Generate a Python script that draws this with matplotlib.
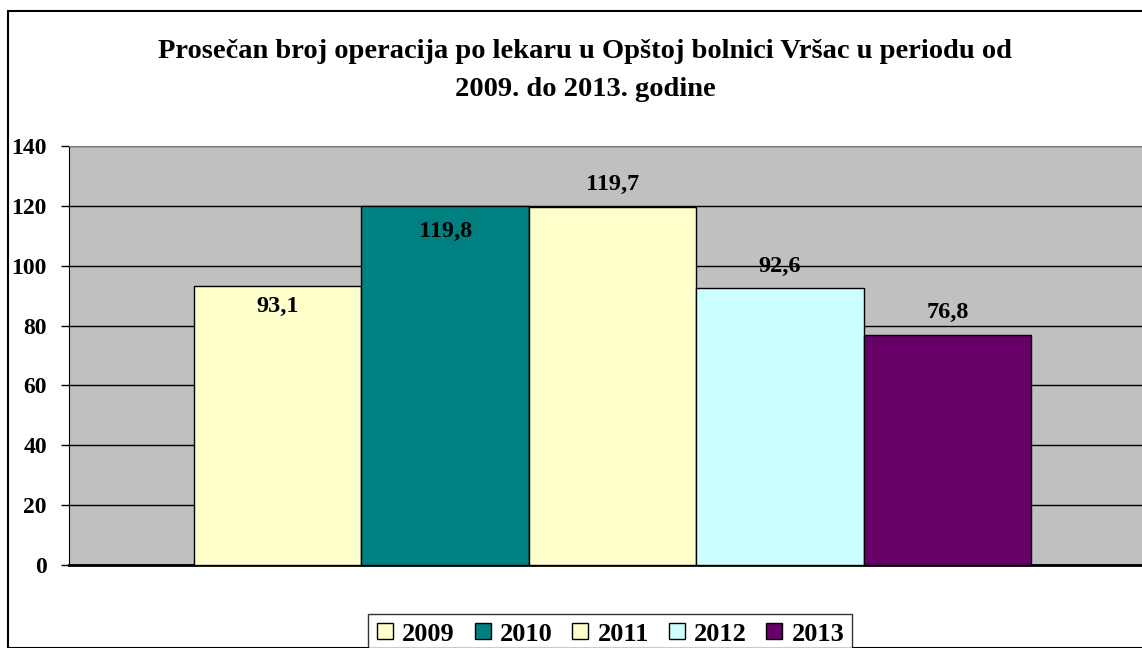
import matplotlib
matplotlib.use("Agg")
import matplotlib.pyplot as plt
from matplotlib.lines import Line2D
from matplotlib.patches import Rectangle

godine = ["2009", "2010", "2011", "2012", "2013"]
prosek = [93.1, 119.8, 119.7, 92.6, 76.8]
boje = ["#FFFFCC", "#008080", "#FFFFCC", "#CCFFFF", "#660066"]
# pomeraj oznaka u pikselima (kao u Excel-u, neke unutra, neke iznad)
pomeraj = [-20, -25, 22, 21, 23]

plt.rcParams["font.family"] = ["Liberation Serif", "DejaVu Serif"]
plt.rcParams["font.weight"] = "bold"

W, H = 1142, 648
fig = plt.figure(figsize=(W / 100, H / 100), dpi=100)

# okvir grafikona
fig.patches.append(Rectangle((8 / W, 0), 1.2, 1 - 11 / H, transform=fig.transFigure,
                             fill=False, edgecolor="black", lw=1.5))

ax = fig.add_axes([69 / W, (H - 565) / H, (W - 69) / W, (565 - 146) / H])
ax.set_facecolor("#C0C0C0")

x = list(range(len(godine)))
ax.bar(x, prosek, width=1.0, color=boje, edgecolor="black", linewidth=1, zorder=3)

for xi, v, d in zip(x, prosek, pomeraj):
    ax.annotate(f"{v:.1f}".replace(".", ","), (xi, v), xytext=(0, d),
                textcoords="offset pixels", ha="center", va="center",
                fontsize=17.5, fontweight="bold", zorder=5)

ax.set_ylim(0, 140)
ax.set_yticks(range(0, 141, 20))
ax.set_xlim(-1.247, 5.163)
ax.set_xticks([])
ax.yaxis.grid(True, color="black", lw=1)
ax.set_axisbelow(True)
ax.tick_params(axis="y", direction="out", length=6, width=1, pad=10, labelsize=17)
for lab in ax.get_yticklabels():
    lab.set_fontweight("bold")

ax.spines["left"].set_color("black")
ax.spines["bottom"].set_linewidth(2)
ax.spines["top"].set_color("#808080")
ax.spines["right"].set_visible(False)

fig.text(585 / W, 1 - 51 / H, "Prosečan broj operacija po lekaru u Opštoj bolnici Vršac u periodu od",
         ha="center", va="center", fontsize=20.5, fontweight="bold")
fig.text(585 / W, 1 - 89 / H, "2009. do 2013. godine",
         ha="center", va="center", fontsize=20.5, fontweight="bold")

ruke = [Line2D([], [], marker="s", ls="none", markersize=11, markerfacecolor=c,
               markeredgecolor="black", markeredgewidth=1) for c in boje]
leg = fig.legend(ruke, godine, loc="upper center", bbox_to_anchor=(610 / W, 1 - 601 / H),
                 ncol=5, frameon=True, fancybox=False, edgecolor="black",
                 prop={"size": 19, "weight": "bold"}, handlelength=0.7,
                 handletextpad=0.3, columnspacing=0.7, borderpad=0.3)
leg.get_frame().set_linewidth(1)

fig.savefig("out.png", dpi=100)
